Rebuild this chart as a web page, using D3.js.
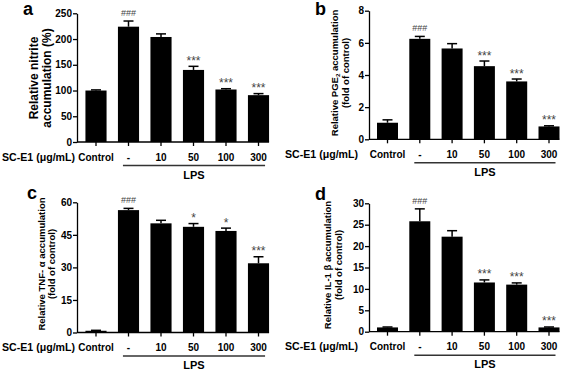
<!DOCTYPE html>
<html>
<head>
<meta charset="utf-8">
<script src="https://cdn.jsdelivr.net/npm/d3@7"></script>
<style>
  body { margin: 0; background: #fff; }
  svg { display: block; font-family: Arial, "Liberation Sans", sans-serif; }
</style>
</head>
<body>
<div id="chart"></div>
<script>
// groups on the x axis (all panels)
const groups = ["Control", "-", "10", "50", "100", "300"];

// a: nitrite
const nitriteMean = [100, 224, 204, 140, 102, 91];
const nitriteErr = [1.2, 11, 6, 7, 1.5, 3];
const nitriteSig = ["", "###", "", "***", "***", "***"];
const nitriteTicks = [0, 50, 100, 150, 200, 250];

// b: PGE2
const pgeMean = [1.03, 6.25, 5.65, 4.55, 3.6, 0.8];
const pgeErr = [0.18, 0.15, 0.3, 0.32, 0.15, 0.04];
const pgeSig = ["", "###", "", "***", "***", "***"];
const pgeTicks = [0, 2, 4, 6, 8];

// c: TNF-a
const tnfMean = [0.8, 56.4, 50.3, 48.7, 46.8, 31.9];
const tnfErr = [0.2, 0.8, 1.4, 1.5, 1.3, 3];
const tnfSig = ["", "###", "", "*", "*", "***"];
const tnfTicks = [0, 15, 30, 45, 60];

// d: IL-1b
const il1Mean = [1.0, 25.8, 22.2, 11.5, 11.0, 1.0];
const il1Err = [0.1, 2.9, 1.4, 0.6, 0.4, 0.1];
const il1Sig = ["", "###", "", "***", "***", "***"];
const il1Ticks = [0, 5, 10, 15, 20, 25, 30];

const svg = d3.select("#chart").append("svg")
    .attr("width", 567)
    .attr("height", 370);

function drawPanel(p) {
    const g = svg.append("g");

    const x = d3.scaleBand()
        .domain(groups)
        .range([p.bandStart, p.bandStart + groups.length * p.step])
        .paddingInner(0.35)
        .paddingOuter(0.175);
    const bw = x.bandwidth();

    const y = d3.scaleLinear()
        .domain([0, d3.max(p.ticks)])
        .range([p.yZero, p.yTop]);

    // bars
    g.append("g")
        .selectAll("rect")
        .data(groups)
        .join("rect")
        .attr("x", d => x(d))
        .attr("y", (d, i) => y(p.mean[i]))
        .attr("width", bw)
        .attr("height", (d, i) => p.yZero - y(p.mean[i]))
        .attr("fill", "#000");

    // error bars (upper only)
    const err = g.append("g").attr("stroke", "#000").attr("stroke-width", 1.5);
    groups.forEach((d, i) => {
        const cx = x(d) + bw / 2;
        const top = y(p.mean[i] + p.err[i]);
        err.append("line")
            .attr("x1", cx).attr("x2", cx)
            .attr("y1", y(p.mean[i])).attr("y2", top);
        err.append("line")
            .attr("x1", cx - 5).attr("x2", cx + 5)
            .attr("y1", top).attr("y2", top);
    });

    // significance marks (### smaller, asterisks larger)
    g.append("g")
        .selectAll("text")
        .data(groups)
        .join("text")
        .attr("x", d => x(d) + bw / 2)
        .attr("y", (d, i) => y(p.mean[i] + p.err[i]) - (p.sig[i] === "###" ? 5 : 1.5))
        .attr("text-anchor", "middle")
        .attr("font-size", (d, i) => p.sig[i] === "###" ? 9 : 12)
        .attr("fill", "#444")
        .text((d, i) => p.sig[i]);

    // y axis
    const yAxis = g.append("g")
        .attr("transform", `translate(${p.axisX},0)`)
        .call(d3.axisLeft(y).tickValues(p.ticks).tickSize(4).tickSizeOuter(0).tickPadding(1));
    yAxis.select(".domain").attr("stroke-width", 1.3);
    yAxis.selectAll(".tick line").attr("stroke-width", 1.3);
    yAxis.selectAll("text").attr("font-size", 10).attr("font-weight", "bold")
        .attr("font-family", "Arial, 'Liberation Sans', sans-serif");

    // x axis
    const xAxis = g.append("g")
        .attr("transform", `translate(0,${p.yZero})`)
        .call(d3.axisBottom(x).tickSize(4).tickSizeOuter(0).tickPadding(7.4));
    xAxis.select(".domain").remove();
    xAxis.selectAll(".tick line").attr("stroke-width", 1.3);
    xAxis.selectAll("text").attr("font-size", 10).attr("font-weight", "bold")
        .attr("font-family", "Arial, 'Liberation Sans', sans-serif");
    g.append("line")
        .attr("x1", p.axisX).attr("x2", x(groups[groups.length - 1]) + bw)
        .attr("y1", p.yZero).attr("y2", p.yZero)
        .attr("stroke", "#000").attr("stroke-width", 1.3);

    // dose label
    g.append("text")
        .attr("x", p.panelX + 2)
        .attr("y", p.yZero + 18.5)
        .attr("font-size", 10.5)
        .attr("font-weight", "bold")
        .attr("textLength", 73)
        .attr("lengthAdjust", "spacingAndGlyphs")
        .text("SC-E1 (μg/mL)");

    // LPS bracket
    const lx1 = x("-") + 5, lx2 = x("300") + bw - 4;
    g.append("line")
        .attr("x1", lx1).attr("x2", lx2)
        .attr("y1", p.yZero + 23.5).attr("y2", p.yZero + 23.5)
        .attr("stroke", "#333").attr("stroke-width", 1.5);
    g.append("text")
        .attr("x", (lx1 + lx2) / 2)
        .attr("y", p.yZero + 36.5)
        .attr("text-anchor", "middle")
        .attr("font-size", 11)
        .attr("font-weight", "bold")
        .text("LPS");

    // panel letter
    g.append("text")
        .attr("x", p.letterX)
        .attr("y", p.letterY)
        .attr("font-size", 18)
        .attr("font-weight", "bold")
        .text(p.letter);

    // y title (two lines, rotated)
    p.title.forEach((line, k) => {
        const t = g.append("text")
            .attr("transform", `translate(${p.titleX[k]},${p.titleY}) rotate(-90)`)
            .attr("text-anchor", "middle")
            .attr("dy", "0.35em")
            .attr("font-size", p.titleSize)
            .attr("font-weight", "bold");
        line.forEach(part => {
            const s = t.append("tspan").text(part.t);
            if (part.sub) s.attr("font-size", p.titleSize * 0.65).attr("dy", 2);
            if (part.after) s.attr("dy", -2);
        });
    });
}

drawPanel({
    letter: "a", letterX: 23, letterY: 15,
    panelX: 0, axisX: 77, bandStart: 79.75, step: 32.5,
    yZero: 142, yTop: 13.3,
    mean: nitriteMean, err: nitriteErr, sig: nitriteSig, ticks: nitriteTicks,
    title: [[{ t: "Relative nitrite" }], [{ t: "accumulation (%)" }]],
    titleX: [34, 47], titleY: 78, titleSize: 12
});

drawPanel({
    letter: "b", letterX: 315, letterY: 15,
    panelX: 283, axisX: 369, bandStart: 371.35, step: 32.3,
    yZero: 139.3, yTop: 10.7,
    mean: pgeMean, err: pgeErr, sig: pgeSig, ticks: pgeTicks,
    title: [[{ t: "Relative PGE" }, { t: "2", sub: true }, { t: " accumulation", after: true }], [{ t: "(fold of control)" }]],
    titleX: [335, 345.5], titleY: 73, titleSize: 9.5
});

drawPanel({
    letter: "c", letterX: 27, letterY: 199,
    panelX: 0, axisX: 77, bandStart: 79.75, step: 32.5,
    yZero: 332.5, yTop: 202.3,
    mean: tnfMean, err: tnfErr, sig: tnfSig, ticks: tnfTicks,
    title: [[{ t: "Relative TNF- α accumulation" }], [{ t: "(fold of control)" }]],
    titleX: [41.5, 52], titleY: 264, titleSize: 9.5
});

drawPanel({
    letter: "d", letterX: 315, letterY: 200,
    panelX: 283, axisX: 369, bandStart: 371.35, step: 32.3,
    yZero: 331.7, yTop: 203.3,
    mean: il1Mean, err: il1Err, sig: il1Sig, ticks: il1Ticks,
    title: [[{ t: "Relative IL-1 β accumulation" }], [{ t: "(fold of control)" }]],
    titleX: [328, 338.5], titleY: 265, titleSize: 9.5
});
</script>
</body>
</html>
